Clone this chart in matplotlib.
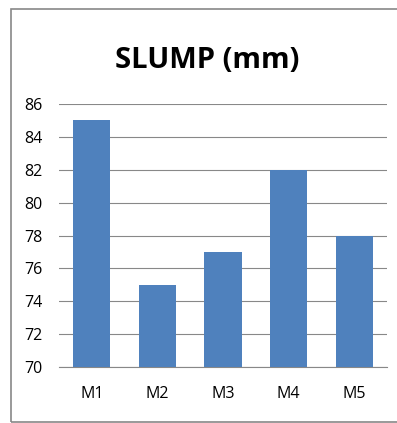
import matplotlib.pyplot as plt
from matplotlib.patches import Rectangle

# chart data
mixes = ["M1", "M2", "M3", "M4", "M5"]
slump = [85, 75, 77, 82, 78]
yticks = [70, 72, 74, 76, 78, 80, 82, 84, 86]

plt.rcParams['font.family'] = ['Open Sans', 'DejaVu Sans']

fig = plt.figure(figsize=(3.97, 4.23), dpi=100)
W, H = 397, 423
ax = fig.add_axes([59 / W, 1 - 367 / H, (387 - 59) / W, (367 - 104) / H])

ax.bar(mixes, slump, width=0.57, color="#4f81bd", zorder=3)
ax.set_ylim(70, 86)
ax.set_xlim(-0.5, 4.5)
ax.set_yticks(yticks)
ax.yaxis.grid(True, color="#888888", linewidth=0.8, zorder=0)
ax.tick_params(axis="both", length=0, labelsize=11.5)
ax.tick_params(axis="y", pad=12)
ax.tick_params(axis="x", pad=14)
for s in ["left", "right", "top"]:
    ax.spines[s].set_visible(False)
ax.spines["bottom"].set_color("#888888")

fig.text(207 / W, 1 - 60 / H, "SLUMP (mm)", ha="center", va="center",
         fontsize=21, fontweight="bold")

# outer chart border
fig.patches.append(Rectangle((11 / W, 1 / H), (W + 5) / W, 1 - 10 / H,
                             transform=fig.transFigure, fill=False,
                             edgecolor="#888888", linewidth=1.2))

fig.savefig("out.png", dpi=100)
